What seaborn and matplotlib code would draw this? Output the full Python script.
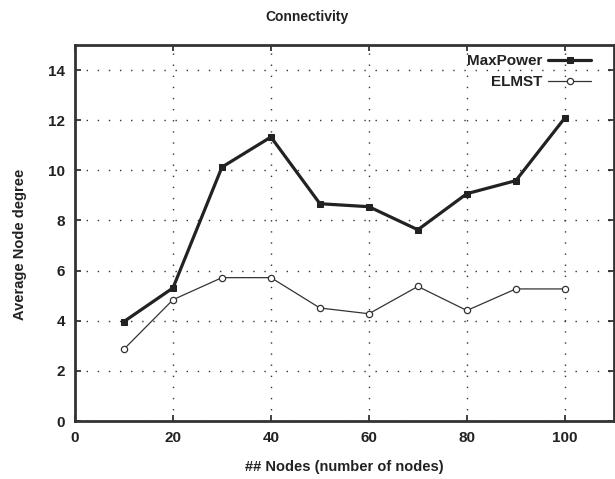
import matplotlib
matplotlib.use("Agg")
import matplotlib.pyplot as plt
import seaborn as sns
import pandas as pd

nodes = [10, 20, 30, 40, 50, 60, 70, 80, 90, 100]
maxpower = [3.97, 5.31, 10.13, 11.33, 8.67, 8.55, 7.63, 9.07, 9.59, 12.09]
elmst = [2.87, 4.84, 5.72, 5.72, 4.51, 4.28, 5.37, 4.41, 5.27, 5.27]
xticks = [0, 20, 40, 60, 80, 100]
yticks = [0, 2, 4, 6, 8, 10, 12, 14]

sns.set_theme(style="white")
plt.rcParams['font.family'] = ['Liberation Sans', 'DejaVu Sans']

fig = plt.figure(figsize=(6.15, 4.79), dpi=100)
ax = fig.add_axes([0.122, 0.121, 0.876, 0.785])

df1 = pd.DataFrame({"x": nodes, "y": maxpower})
df2 = pd.DataFrame({"x": nodes, "y": elmst})
sns.lineplot(data=df1, x="x", y="y", ax=ax, color="#222222", lw=2.3,
             marker="s", markersize=5, markeredgecolor="#222222",
             markerfacecolor="#222222", label="MaxPower")
sns.lineplot(data=df2, x="x", y="y", ax=ax, color="#333333", lw=0.9,
             marker="o", markersize=4.5, markeredgecolor="#333333",
             markerfacecolor="white", markeredgewidth=0.9, label="ELMST")

ax.set_xlim(0, 110)
ax.set_ylim(0, 15)
ax.set_xticks(xticks)
ax.set_yticks(yticks)
ax.grid(True, color="#333333", linestyle=(0, (1, 7)), linewidth=1.0)
ax.tick_params(direction="in", length=4, width=1.2, top=True, right=True,
               bottom=True, left=True, colors="#222222", labelsize=11, pad=7)
for lab in ax.get_xticklabels() + ax.get_yticklabels():
    lab.set_fontweight("bold")
    lab.set_color("#222222")
for s in ax.spines.values():
    s.set_linewidth(2)
    s.set_color("#333333")

ax.set_xlabel("## Nodes (number of nodes)", fontsize=10.5, fontweight="bold",
              color="#222222", labelpad=11)
ax.set_ylabel("Average Node degree", fontsize=10.5, fontweight="bold",
              color="#222222", labelpad=14)
ax.yaxis.set_label_coords(-0.09, 0.47)
fig.text(0.5, 0.964, "Connectivity", ha="center", va="center", fontsize=10,
         fontweight="bold", color="#222222")

leg = ax.legend(loc="upper right", frameon=False, markerfirst=False,
                prop={"weight": "bold", "size": 11}, handlelength=2.8,
                borderaxespad=0.2, labelspacing=0.45, handletextpad=0.4,
                bbox_to_anchor=(0.975, 1.0))
for t in leg.get_texts():
    t.set_color("#222222")
    t.set_ha("right")

fig.savefig("out.png", dpi=100, facecolor="white")
